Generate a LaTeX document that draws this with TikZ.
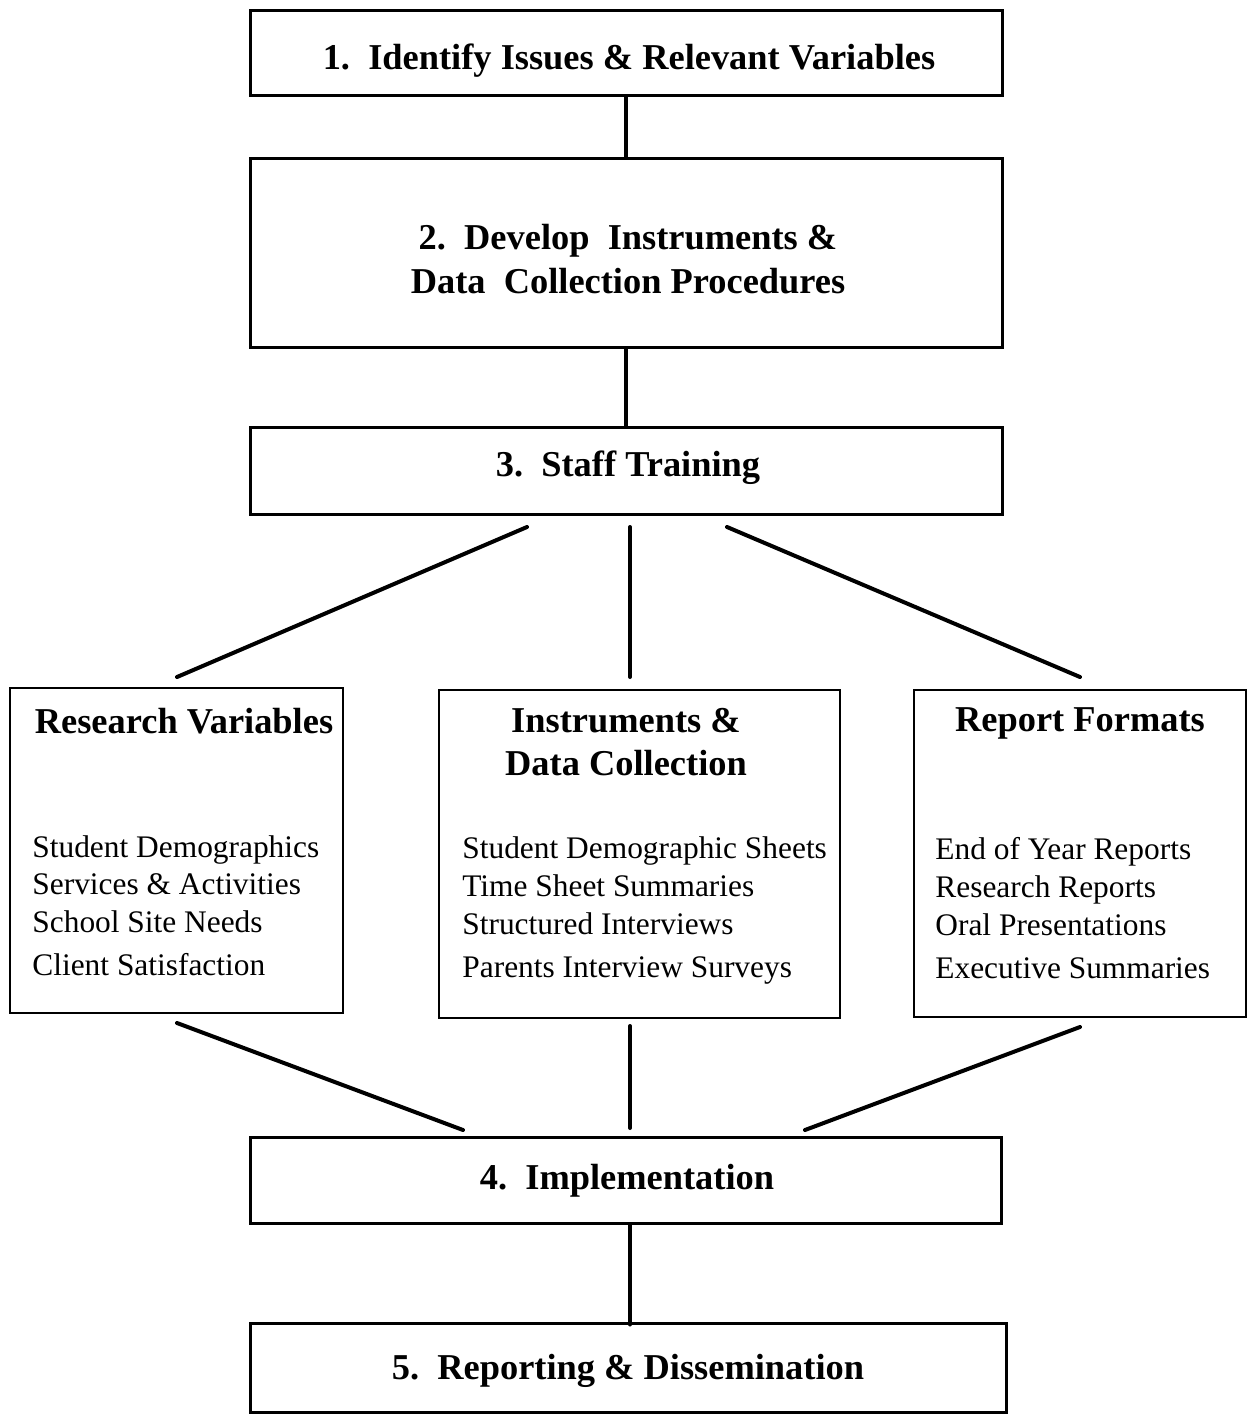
\documentclass[tikz,border=0pt]{standalone}
\usepackage{fontspec}
\setmainfont{Liberation Serif}
\usetikzlibrary{calc}

\tikzset{
	stagebox/.style={draw, line width=1.5pt, inner sep=0pt, minimum width=376pt},
	stagetext/.style={inner sep=0pt, align=center,
		font=\fontsize{18.2}{22}\selectfont\bfseries},
	groupbox/.style={draw, line width=1.2pt, inner sep=0pt},
	grouphead/.style={inner sep=0pt, align=center,
		font=\fontsize{18.2}{21.5}\selectfont\bfseries},
	groupitem/.style={inner sep=0pt, anchor=base west,
		font=\fontsize{15.7}{19}\selectfont},
	link/.style={line width=2pt, line cap=round},
}

\begin{document}
\begin{tikzpicture}[x=0.5pt, y=-0.5pt]
			%%%%% START %%%%%
			\useasboundingbox (0, 0) rectangle (1247, 1414);
			
			% stages
			\node[stagebox, minimum height=42.5pt] (idissues) at (626, 52.5) {};
			\node[stagebox, minimum height=94.5pt] (devinstr) at (626, 252.5) {};
			\node[stagebox, minimum height=43.5pt] (training) at (626, 470.5) {};
			\node[stagebox, minimum width=375.5pt, minimum height=43pt] (implement) at (625.5, 1180) {};
			\node[stagebox, minimum width=378pt, minimum height=44.5pt] (reporting) at (628, 1367.5) {};
			
			\node[stagetext] (idissuestext) at (629, 60.5) {1.\ \ Identify Issues \& Relevant Variables};
			\node[stagetext] (devinstrtext) at (628, 259.5) {2.\ \ Develop\ \ Instruments \&\\[0pt]Data\ \ Collection Procedures};
			\node[stagetext] (trainingtext) at (628, 467.5) {3.\ \ Staff Training};
			\node[stagetext] (implementtext) at (627, 1181) {4.\ \ Implementation};
			\node[stagetext] (reportingtext) at (628, 1370.5) {5.\ \ Reporting \& Dissemination};
			
			% the three groups
			\node[groupbox, minimum width=166.5pt, minimum height=162.5pt] (resvars) at (176.5, 850.5) {};
			\node[groupbox, minimum width=200.5pt, minimum height=164pt] (instdata) at (639.5, 854) {};
			\node[groupbox, minimum width=166pt, minimum height=163.5pt] (repforms) at (1080, 853.5) {};
			
			\node[grouphead] (resvarshead) at (184, 721) {Research Variables};
			\node[grouphead] (instdatahead) at (626, 742.5) {Instruments \&\\Data Collection};
			\node[grouphead] (repformshead) at (1080, 723) {Report Formats};
			
			\node[groupitem] (rv1) at (32, 857) {Student Demographics};
			\node[groupitem] (rv2) at (32, 894) {Services \& Activities};
			\node[groupitem] (rv3) at (32, 932) {School Site Needs};
			\node[groupitem] (rv4) at (32, 975) {Client Satisfaction};
			
			\node[groupitem] (id1) at (462, 858) {Student Demographic Sheets};
			\node[groupitem] (id2) at (462, 896) {Time Sheet Summaries};
			\node[groupitem] (id3) at (462, 934) {Structured Interviews};
			\node[groupitem] (id4) at (462, 977) {Parents Interview Surveys};
			
			\node[groupitem] (rf1) at (935, 859) {End of Year Reports};
			\node[groupitem] (rf2) at (935, 897) {Research Reports};
			\node[groupitem] (rf3) at (935, 935) {Oral Presentations};
			\node[groupitem] (rf4) at (935, 978) {Executive Summaries};
			
			% free ends of the fan lines
			\coordinate (fanA) at (527, 527);
			\coordinate (fanB) at (630, 527);
			\coordinate (fanC) at (727, 527);
			\coordinate (topL) at (177, 677);
			\coordinate (topM) at (630, 677);
			\coordinate (topR) at (1080, 677);
			\coordinate (botL) at (177, 1023);
			\coordinate (botM) at (630, 1026);
			\coordinate (botR) at (1080, 1027);
			\coordinate (joinA) at (463, 1130);
			\coordinate (joinB) at (630, 1128);
			\coordinate (joinC) at (805, 1130);
			
			% connectors
			\draw[link] (idissues) -- (devinstr);
			\draw[link] (devinstr) -- (training);
			\draw[link] (fanA) -- (topL);
			\draw[link] (fanB) -- (topM);
			\draw[link] (fanC) -- (topR);
			\draw[link] (botL) -- (joinA);
			\draw[link] (botM) -- (joinB);
			\draw[link] (botR) -- (joinC);
			\draw[link] ($(implement.south)+(4.5,0)$) -- ($(implement.south)+(4.5,100)$);
			
			%%%%% END %%%%%
\end{tikzpicture}
\end{document}
